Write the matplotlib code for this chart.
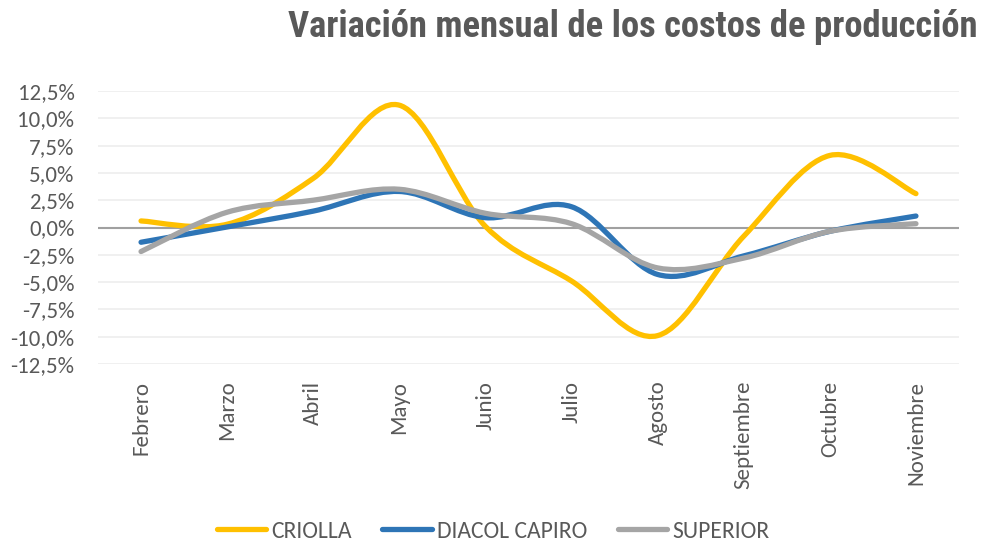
import numpy as np
import matplotlib
matplotlib.use("Agg")
import matplotlib.pyplot as plt
from matplotlib.path import Path
from matplotlib.patches import PathPatch
from matplotlib.lines import Line2D

# datos (variación %)
meses = ["Febrero", "Marzo", "Abril", "Mayo", "Junio", "Julio",
         "Agosto", "Septiembre", "Octubre", "Noviembre"]
criolla = [0.6, 0.3, 4.5, 11.2, 0.1, -4.9, -9.9, -0.8, 6.6, 3.1]
diacol = [-1.35, 0.05, 1.5, 3.3, 0.9, 1.9, -4.3, -2.6, -0.35, 1.05]
superior = [-2.2, 1.4, 2.5, 3.5, 1.3, 0.35, -3.7, -2.8, -0.35, 0.35]

series = ["CRIOLLA", "DIACOL CAPIRO", "SUPERIOR"]
colores = ["#FFC000", "#2E75B6", "#A5A5A5"]
yticks = [12.5, 10.0, 7.5, 5.0, 2.5, 0.0, -2.5, -5.0, -7.5, -10.0, -12.5]
ytick_labels = ["12,5%", "10,0%", "7,5%", "5,0%", "2,5%", "0,0%",
                "-2,5%", "-5,0%", "-7,5%", "-10,0%", "-12,5%"]

fuente_titulo = ["Roboto Condensed", "DejaVu Sans"]
fuente = ["Carlito", "DejaVu Sans"]
gris_txt = "#595959"


def curva_suave(xs, ys):
    # suavizado tipo Excel (Bezier cúbica)
    pts = np.column_stack([xs, ys]).astype(float)
    n = len(pts)
    verts = [pts[0]]
    codes = [Path.MOVETO]
    for i in range(n - 1):
        p0 = pts[max(i - 1, 0)]
        p1 = pts[i]
        p2 = pts[i + 1]
        p3 = pts[min(i + 2, n - 1)]
        c1 = p1 + (p2 - p0) / 6.0
        c2 = p2 - (p3 - p1) / 6.0
        verts += [c1, c2, p2]
        codes += [Path.CURVE4] * 3
    return Path(verts, codes)


fig = plt.figure(figsize=(9.82, 5.41), dpi=100)
ax = fig.add_axes([98 / 982, 1 - 364 / 541, (959 - 98) / 982, (364 - 91) / 541])

x = np.arange(len(meses))
ax.set_xlim(-0.5, len(meses) - 0.5)
ax.set_ylim(-12.5, 12.5)

for v in yticks:
    ax.axhline(v, color="#EFEFEF", lw=1.3, zorder=0)
ax.axhline(0, color="#A0A0A0", lw=1.5, zorder=1)

handles = []
for nombre, ys, col in zip(series, [criolla, diacol, superior], colores):
    patch = PathPatch(curva_suave(x, ys), facecolor="none", edgecolor=col,
                      lw=3.8, capstyle="round", joinstyle="round", zorder=3)
    ax.add_patch(patch)
    handles.append(Line2D([], [], color=col, lw=3.8, solid_capstyle="round"))

for s in ax.spines.values():
    s.set_visible(False)

ax.set_yticks(yticks)
ax.set_yticklabels(ytick_labels, fontfamily=fuente, fontsize=16.5, color=gris_txt)
ax.set_xticks(x)
ax.set_xticklabels(meses, rotation=90, fontfamily=fuente, fontsize=16.5,
                   color=gris_txt, va="top", ha="center")
ax.tick_params(axis="both", length=0)
ax.tick_params(axis="y", pad=17)
ax.tick_params(axis="x", pad=12)

fig.text(978 / 982, 1 - 37 / 541, "Variación mensual de los costos de producción",
         ha="right", va="baseline", fontfamily=fuente_titulo, fontweight="bold",
         fontsize=26.4, color=gris_txt)

fig.legend(handles, series, loc="center", bbox_to_anchor=(493 / 982, 1 - 531 / 541),
           ncol=3, frameon=False, handlelength=2.1, columnspacing=1.3,
           handletextpad=0.2,
           prop={"family": fuente, "size": 17}, labelcolor=gris_txt)

fig.savefig("out.png", dpi=100)
